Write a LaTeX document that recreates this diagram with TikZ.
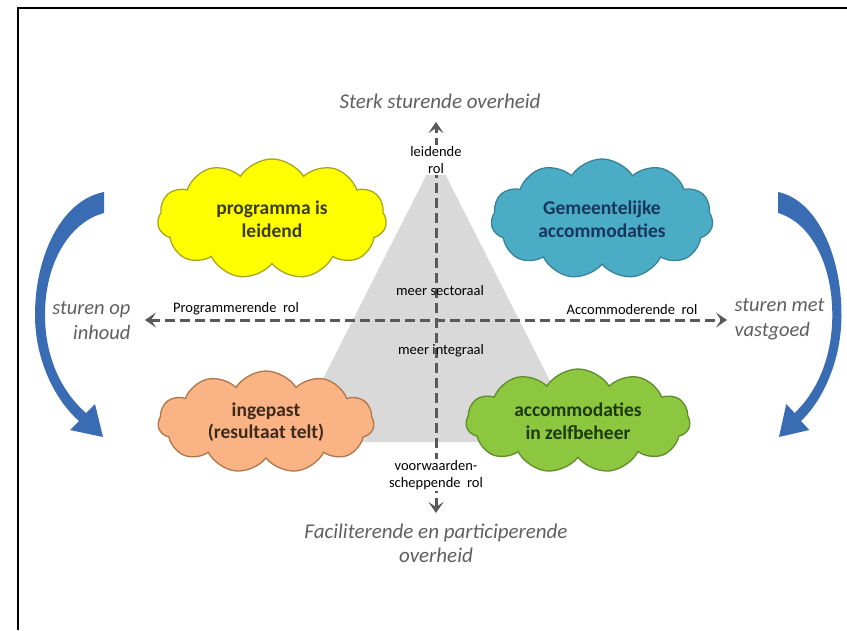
\documentclass[tikz,border=0pt]{standalone}
\usepackage{fontspec}
\setmainfont{Carlito}
\usetikzlibrary{arrows.meta,shapes.symbols}
\definecolor{axisgray}{HTML}{595959}
\definecolor{titlegray}{HTML}{5F5F5F}
\definecolor{tri}{HTML}{D9D9D9}
\definecolor{bluearrow}{HTML}{3A6CB3}
\definecolor{yfill}{HTML}{FFFF00}
\definecolor{ydraw}{HTML}{A6A61E}
\definecolor{ytext}{HTML}{3B3B14}
\definecolor{bfill}{HTML}{4BACC6}
\definecolor{bdraw}{HTML}{3A8396}
\definecolor{btext}{HTML}{17365D}
\definecolor{ofill}{HTML}{F9B384}
\definecolor{odraw}{HTML}{B0764A}
\definecolor{otext}{HTML}{3D2A1C}
\definecolor{gfill}{HTML}{8DC63F}
\definecolor{gdraw}{HTML}{5F8C2C}
\definecolor{gtext}{HTML}{1D3A0E}
\begin{document}
\begin{tikzpicture}[x=1pt,y=-1pt,
  cloudbox/.style={cloud, cloud puffs=11, cloud puff arc=115, cloud ignores aspect,
    draw, line width=1.3pt, align=center, inner sep=0pt,
    font=\fontsize{19.5}{22.5}\selectfont\bfseries},
  dasharrow/.style={draw=axisgray, line width=3pt, dash pattern=on 10pt off 5pt,
    {Stealth[length=11pt,width=15pt,inset=5pt]}-{Stealth[length=11pt,width=15pt,inset=5pt]}},
  smalllabel/.style={font=\fontsize{14.5}{16.5}\selectfont, text=black, inner sep=1.2pt},
  titletext/.style={font=\fontsize{21}{24}\selectfont\itshape, text=titlegray, align=center},
  sidetext/.style={font=\fontsize{20.5}{25}\selectfont\itshape, text=titlegray},
  bluecurve/.style={fill=bluearrow, draw=none}]
\useasboundingbox (0,0) rectangle (847,630);
% frame
\draw[line width=2.6pt] (18,630) -- (18,8) -- (847,8);
% gray triangle
\fill[tri] (436,156) -- (581,442) -- (291,442) -- cycle;
% axes
\coordinate (vtop) at (436,122);
\coordinate (vbot) at (436,513);
\coordinate (hleft) at (145,320);
\coordinate (hright) at (727,320);
\draw[dasharrow] (vbot) -- (vtop);
\draw[dasharrow] (hleft) -- (hright);
% axis labels
\node[smalllabel, fill=white, align=center] (lead) at (436,160) {leidende\\rol};
\node[smalllabel, fill=white, align=center] (voorw) at (436,475) {voorwaarden-\\scheppende\ \ rol};
\node[smalllabel] (prog) at (236,309) {Programmerende\ \ rol};
\node[smalllabel] (acc) at (632,310) {Accommoderende\ \ rol};
\node[smalllabel] (sect) at (440,291) {meer sectoraal};
\node[smalllabel] (integ) at (441,351) {meer integraal};
% clouds
\node[cloudbox, fill=yfill, draw=ydraw, text=ytext, minimum width=229pt, minimum height=120pt] (ycloud) at (272,219) {programma is\\leidend};
\node[cloudbox, fill=bfill, draw=bdraw, text=btext, minimum width=222pt, minimum height=120pt] (bcloud) at (602,219) {Gemeentelijke\\accommodaties};
\node[cloudbox, fill=ofill, draw=odraw, text=otext, minimum width=216pt, minimum height=102pt] (ocloud) at (266,422) {ingepast\\(resultaat telt)};
\node[cloudbox, fill=gfill, draw=gdraw, text=gtext, minimum width=224pt, minimum height=104pt] (gcloud) at (578,421) {accommodaties\\in zelfbeheer};
% titles
\node[titletext] (toptitle) at (440,101) {Sterk sturende overheid};
\node[titletext] (bottitle) at (436,543) {Faciliterende en participerende\\overheid};
% side texts
\node[sidetext, align=right, anchor=east] (lefttext) at (134,321) {sturen op\\inhoud};
\node[sidetext, align=left, anchor=west] (righttext) at (731,319) {sturen met\\vastgoed};
% blue curved arrows
\fill[bluecurve] (104,192) .. controls (62,200) and (35,255) .. (35,315)
  .. controls (35,360) and (55,400) .. (79,421)
  -- (70,430) -- (103,437) -- (95,404) -- (86,413)
  .. controls (62,392) and (45,358) .. (45,315)
  .. controls (45,262) and (70,222) .. (104,213) -- cycle;
\begin{scope}[shift={(873.7,0)}, xscale=-0.92]
\fill[bluecurve] (104,192) .. controls (62,200) and (35,255) .. (35,315)
  .. controls (35,360) and (55,400) .. (79,421)
  -- (70,430) -- (103,437) -- (95,404) -- (86,413)
  .. controls (62,392) and (45,358) .. (45,315)
  .. controls (45,262) and (70,222) .. (104,213) -- cycle;
\end{scope}
\end{tikzpicture}
\end{document}
